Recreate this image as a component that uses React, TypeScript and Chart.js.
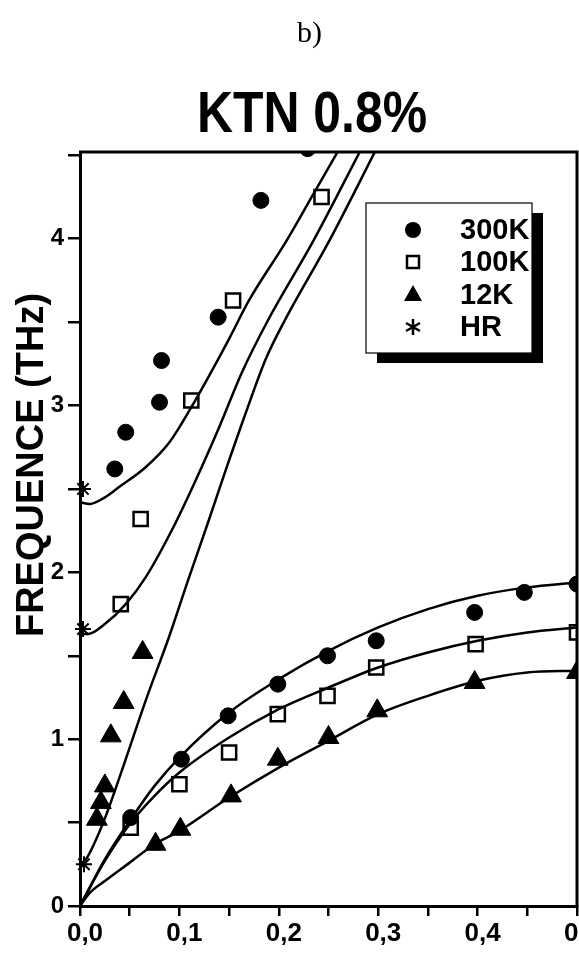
import React, { useEffect, useRef } from 'react';
import { Chart, registerables } from 'chart.js';

Chart.register(...registerables);

// ---- text ----
const PANEL_LABEL = 'b)';
const TITLE = 'KTN 0.8%';
const Y_TITLE = 'FREQUENCE (THz)';
const SERIES_NAMES = ['300K', '100K', '12K', 'HR'];

// ---- ticks ----
const X_TICKS = [0, 0.05, 0.1, 0.15, 0.2, 0.25, 0.3, 0.35, 0.4, 0.45, 0.5];
const X_TICK_LABELS = ['0,0', '', '0,1', '', '0,2', '', '0,3', '', '0,4', '', '0,5'];
const Y_TICKS = [0, 0.5, 1, 1.5, 2, 2.5, 3, 3.5, 4, 4.5];
const Y_TICK_LABELS = ['0', '', '1', '', '2', '', '3', '', '4', ''];

// ---- measured points ----
const Q_300K = [0.035, 0.046, 0.080, 0.082, 0.139, 0.182, 0.229, 0.051, 0.102, 0.149, 0.199, 0.249, 0.298, 0.397, 0.447, 0.500];
const F_300K = [2.62, 2.84, 3.02, 3.27, 3.53, 4.23, 4.54, 0.53, 0.88, 1.14, 1.33, 1.50, 1.59, 1.76, 1.88, 1.93];

const Q_100K = [0.041, 0.061, 0.112, 0.154, 0.243, 0.051, 0.100, 0.150, 0.199, 0.249, 0.298, 0.398, 0.500];
const F_100K = [1.81, 2.32, 3.03, 3.63, 4.25, 0.47, 0.73, 0.92, 1.15, 1.26, 1.43, 1.57, 1.64];

const Q_12K = [0.017, 0.021, 0.025, 0.031, 0.044, 0.063, 0.076, 0.101, 0.152, 0.199, 0.250, 0.299, 0.397, 0.500];
const F_12K = [0.52, 0.62, 0.72, 1.02, 1.22, 1.52, 0.37, 0.46, 0.66, 0.88, 1.01, 1.17, 1.34, 1.40];

const Q_HR = [0.003, 0.003, 0.004];
const F_HR = [2.50, 1.66, 0.25];

// ---- fitted curves ----
const FIT_300K_OPT_Q = [0, 0.01, 0.025, 0.039, 0.066, 0.09, 0.112, 0.13, 0.15, 0.17, 0.208, 0.235, 0.262];
const FIT_300K_OPT_F = [2.42, 2.41, 2.45, 2.51, 2.63, 2.78, 2.99, 3.18, 3.40, 3.63, 3.99, 4.27, 4.55];

const FIT_100K_OPT_Q = [0, 0.008, 0.025, 0.046, 0.066, 0.093, 0.117, 0.14, 0.163, 0.189, 0.235, 0.284];
const FIT_100K_OPT_F = [1.63, 1.63, 1.69, 1.81, 1.97, 2.26, 2.56, 2.87, 3.20, 3.51, 3.99, 4.55];

const FIT_12K_OPT_Q = [0, 0.006, 0.014, 0.026, 0.042, 0.066, 0.09, 0.108, 0.13, 0.147, 0.167, 0.187, 0.206, 0.251, 0.30];
const FIT_12K_OPT_F = [0.25, 0.28, 0.37, 0.54, 0.81, 1.23, 1.62, 1.94, 2.32, 2.62, 2.96, 3.28, 3.51, 3.99, 4.56];

const FIT_AC_Q = [0, 0.025, 0.05, 0.075, 0.1, 0.15, 0.2, 0.25, 0.3, 0.35, 0.4, 0.45, 0.5];
const FIT_300K_AC_F = [0, 0.28, 0.51, 0.72, 0.89, 1.16, 1.36, 1.53, 1.67, 1.78, 1.86, 1.91, 1.94];
const FIT_100K_AC_F = [0, 0.27, 0.49, 0.66, 0.80, 1.01, 1.18, 1.31, 1.43, 1.52, 1.59, 1.64, 1.67];

const FIT_12K_AC_Q = [0, 0.01, 0.025, 0.05, 0.075, 0.1, 0.15, 0.2, 0.25, 0.3, 0.35, 0.4, 0.45, 0.5];
const FIT_12K_AC_F = [0, 0.08, 0.15, 0.26, 0.37, 0.45, 0.65, 0.83, 0.99, 1.15, 1.26, 1.35, 1.40, 1.41];

const zip = (xs: number[], ys: number[]) => xs.map((x, i) => ({ x, y: ys[i] }));

const SANS = '"Liberation Sans", Arial, sans-serif';
const SERIF = '"Liberation Serif", "Times New Roman", serif';

function drawMarker(ctx: CanvasRenderingContext2D, kind: string, x: number, y: number) {
  ctx.save();
  ctx.fillStyle = '#000';
  ctx.strokeStyle = '#000';
  ctx.beginPath();
  if (kind === 'circle') {
    ctx.arc(x, y, 8, 0, Math.PI * 2);
    ctx.fill();
  } else if (kind === 'rect') {
    ctx.lineWidth = 2.5;
    ctx.strokeRect(x - 6, y - 6, 12, 12);
  } else if (kind === 'triangle') {
    ctx.moveTo(x, y - 10);
    ctx.lineTo(x + 9, y + 6);
    ctx.lineTo(x - 9, y + 6);
    ctx.closePath();
    ctx.fill();
  } else {
    ctx.lineWidth = 2.5;
    const r = 8;
    for (let k = 0; k < 3; k++) {
      const a = Math.PI / 2 + (k * Math.PI) / 3;
      ctx.moveTo(x - Math.cos(a) * r, y - Math.sin(a) * r);
      ctx.lineTo(x + Math.cos(a) * r, y + Math.sin(a) * r);
    }
    ctx.stroke();
  }
  ctx.restore();
}

const decorPlugin = {
  id: 'decor',
  afterDraw(chart: any) {
    const { ctx, chartArea: a } = chart;
    ctx.save();
    // frame top & right
    ctx.strokeStyle = '#000';
    ctx.lineWidth = 3;
    ctx.beginPath();
    ctx.moveTo(a.left - 1, a.top);
    ctx.lineTo(a.right, a.top);
    ctx.lineTo(a.right, a.bottom + 1);
    ctx.stroke();

    // legend box with shadow
    const bx = a.left + 286, by = a.top + 51, bw = 166, bh = 150;
    ctx.fillStyle = '#000';
    ctx.fillRect(bx + 11, by + 10, bw, bh);
    ctx.fillStyle = '#fff';
    ctx.fillRect(bx, by, bw, bh);
    ctx.lineWidth = 1.2;
    ctx.strokeRect(bx, by, bw, bh);
    const kinds = ['circle', 'rect', 'triangle', 'star'];
    const rows = [27, 59, 92, 124];
    ctx.font = 'bold 29px ' + SANS;
    ctx.textBaseline = 'middle';
    ctx.textAlign = 'left';
    SERIES_NAMES.forEach((name, i) => {
      drawMarker(ctx, kinds[i], bx + 47, by + rows[i]);
      ctx.fillStyle = '#000';
      ctx.fillText(name, bx + 94, by + rows[i] + 1);
    });

    // panel label
    ctx.fillStyle = '#000';
    ctx.font = '30px ' + SERIF;
    ctx.textBaseline = 'alphabetic';
    ctx.textAlign = 'left';
    ctx.fillText(PANEL_LABEL, 297, 42);

    // title (slightly condensed)
    ctx.save();
    ctx.font = 'bold 58px ' + SANS;
    ctx.textAlign = 'center';
    ctx.translate(312, 132);
    ctx.scale(0.86, 1);
    ctx.fillText(TITLE, 0, 0);
    ctx.restore();

    // y title
    ctx.save();
    ctx.font = 'bold 38px ' + SANS;
    ctx.textAlign = 'center';
    ctx.textBaseline = 'alphabetic';
    ctx.translate(43, 465);
    ctx.rotate(-Math.PI / 2);
    ctx.fillText(Y_TITLE, 0, 0);
    ctx.restore();

    ctx.restore();
  },
};

const fitStyle = {
  showLine: true,
  borderColor: '#000',
  borderWidth: 2.5,
  pointRadius: 0,
  pointHoverRadius: 0,
  cubicInterpolationMode: 'monotone' as const,
  fill: false,
  order: 2,
};

export default function App() {
  const ref = useRef<HTMLCanvasElement>(null);

  useEffect(() => {
    if (!ref.current) return;
    const chart = new Chart(ref.current, {
      type: 'scatter',
      data: {
        datasets: [
          { label: 'fit300o', data: zip(FIT_300K_OPT_Q, FIT_300K_OPT_F), ...fitStyle },
          { label: 'fit100o', data: zip(FIT_100K_OPT_Q, FIT_100K_OPT_F), ...fitStyle },
          { label: 'fit12o', data: zip(FIT_12K_OPT_Q, FIT_12K_OPT_F), ...fitStyle },
          { label: 'fit300a', data: zip(FIT_AC_Q, FIT_300K_AC_F), ...fitStyle },
          { label: 'fit100a', data: zip(FIT_AC_Q, FIT_100K_AC_F), ...fitStyle },
          { label: 'fit12a', data: zip(FIT_12K_AC_Q, FIT_12K_AC_F), ...fitStyle },
          {
            label: SERIES_NAMES[0], data: zip(Q_300K, F_300K), pointStyle: 'circle', pointRadius: 8,
            backgroundColor: '#000', borderColor: '#000', borderWidth: 1, order: 1,
          },
          {
            label: SERIES_NAMES[1], data: zip(Q_100K, F_100K), pointStyle: 'rect', pointRadius: 10,
            backgroundColor: 'rgba(0,0,0,0)', borderColor: '#000', borderWidth: 2.5, order: 1,
          },
          {
            label: SERIES_NAMES[2], data: zip(Q_12K, F_12K), pointStyle: 'triangle', pointRadius: 12,
            backgroundColor: '#000', borderColor: '#000', borderWidth: 1, order: 1,
          },
          {
            label: SERIES_NAMES[3], data: zip(Q_HR, F_HR), pointStyle: 'star', pointRadius: 8,
            backgroundColor: '#000', borderColor: '#000', borderWidth: 2, order: 1, clip: false,
          },
        ] as any,
      },
      options: {
        responsive: false,
        animation: false,
        layout: { padding: { top: 152, left: 0, right: 43, bottom: 0 } },
        plugins: {
          legend: { display: false },
          tooltip: { enabled: false },
          title: { display: false },
        },
        scales: {
          x: {
            type: 'linear',
            min: 0,
            max: 0.5,
            afterBuildTicks: (s: any) => { s.ticks = X_TICKS.map((v) => ({ value: v })); },
            afterFit: (s: any) => { s.height = 49; },
            ticks: {
              autoSkip: false,
              maxRotation: 0,
              color: '#000',
              font: { family: SANS, size: 26, weight: 'bold' },
              padding: 2,
              labelOffset: 5,
              callback: (_v: any, i: number) => X_TICK_LABELS[i],
            },
            grid: { display: true, drawOnChartArea: false, drawTicks: true, tickLength: 10, color: '#000', lineWidth: 2.5 },
            border: { display: true, color: '#000', width: 3 },
          },
          y: {
            type: 'linear',
            min: 0,
            max: 4.52,
            afterBuildTicks: (s: any) => { s.ticks = Y_TICKS.map((v) => ({ value: v })); },
            afterFit: (s: any) => { s.width = 80; },
            ticks: {
              autoSkip: false,
              color: '#000',
              font: { family: SANS, size: 24, weight: 'bold' },
              padding: 4,
              callback: (_v: any, i: number) => Y_TICK_LABELS[i],
            },
            grid: { display: true, drawOnChartArea: false, drawTicks: true, tickLength: 12, color: '#000', lineWidth: 2.5 },
            border: { display: true, color: '#000', width: 3 },
          },
        },
      } as any,
      plugins: [decorPlugin],
    });
    return () => chart.destroy();
  }, []);

  return (
    <div style={{ position: 'fixed', left: 0, top: 0, width: 579, height: 955, overflow: 'hidden', background: '#fff' }}>
      <canvas ref={ref} width={620} height={955} style={{ display: 'block', width: 620, height: 955 }} />
    </div>
  );
}
